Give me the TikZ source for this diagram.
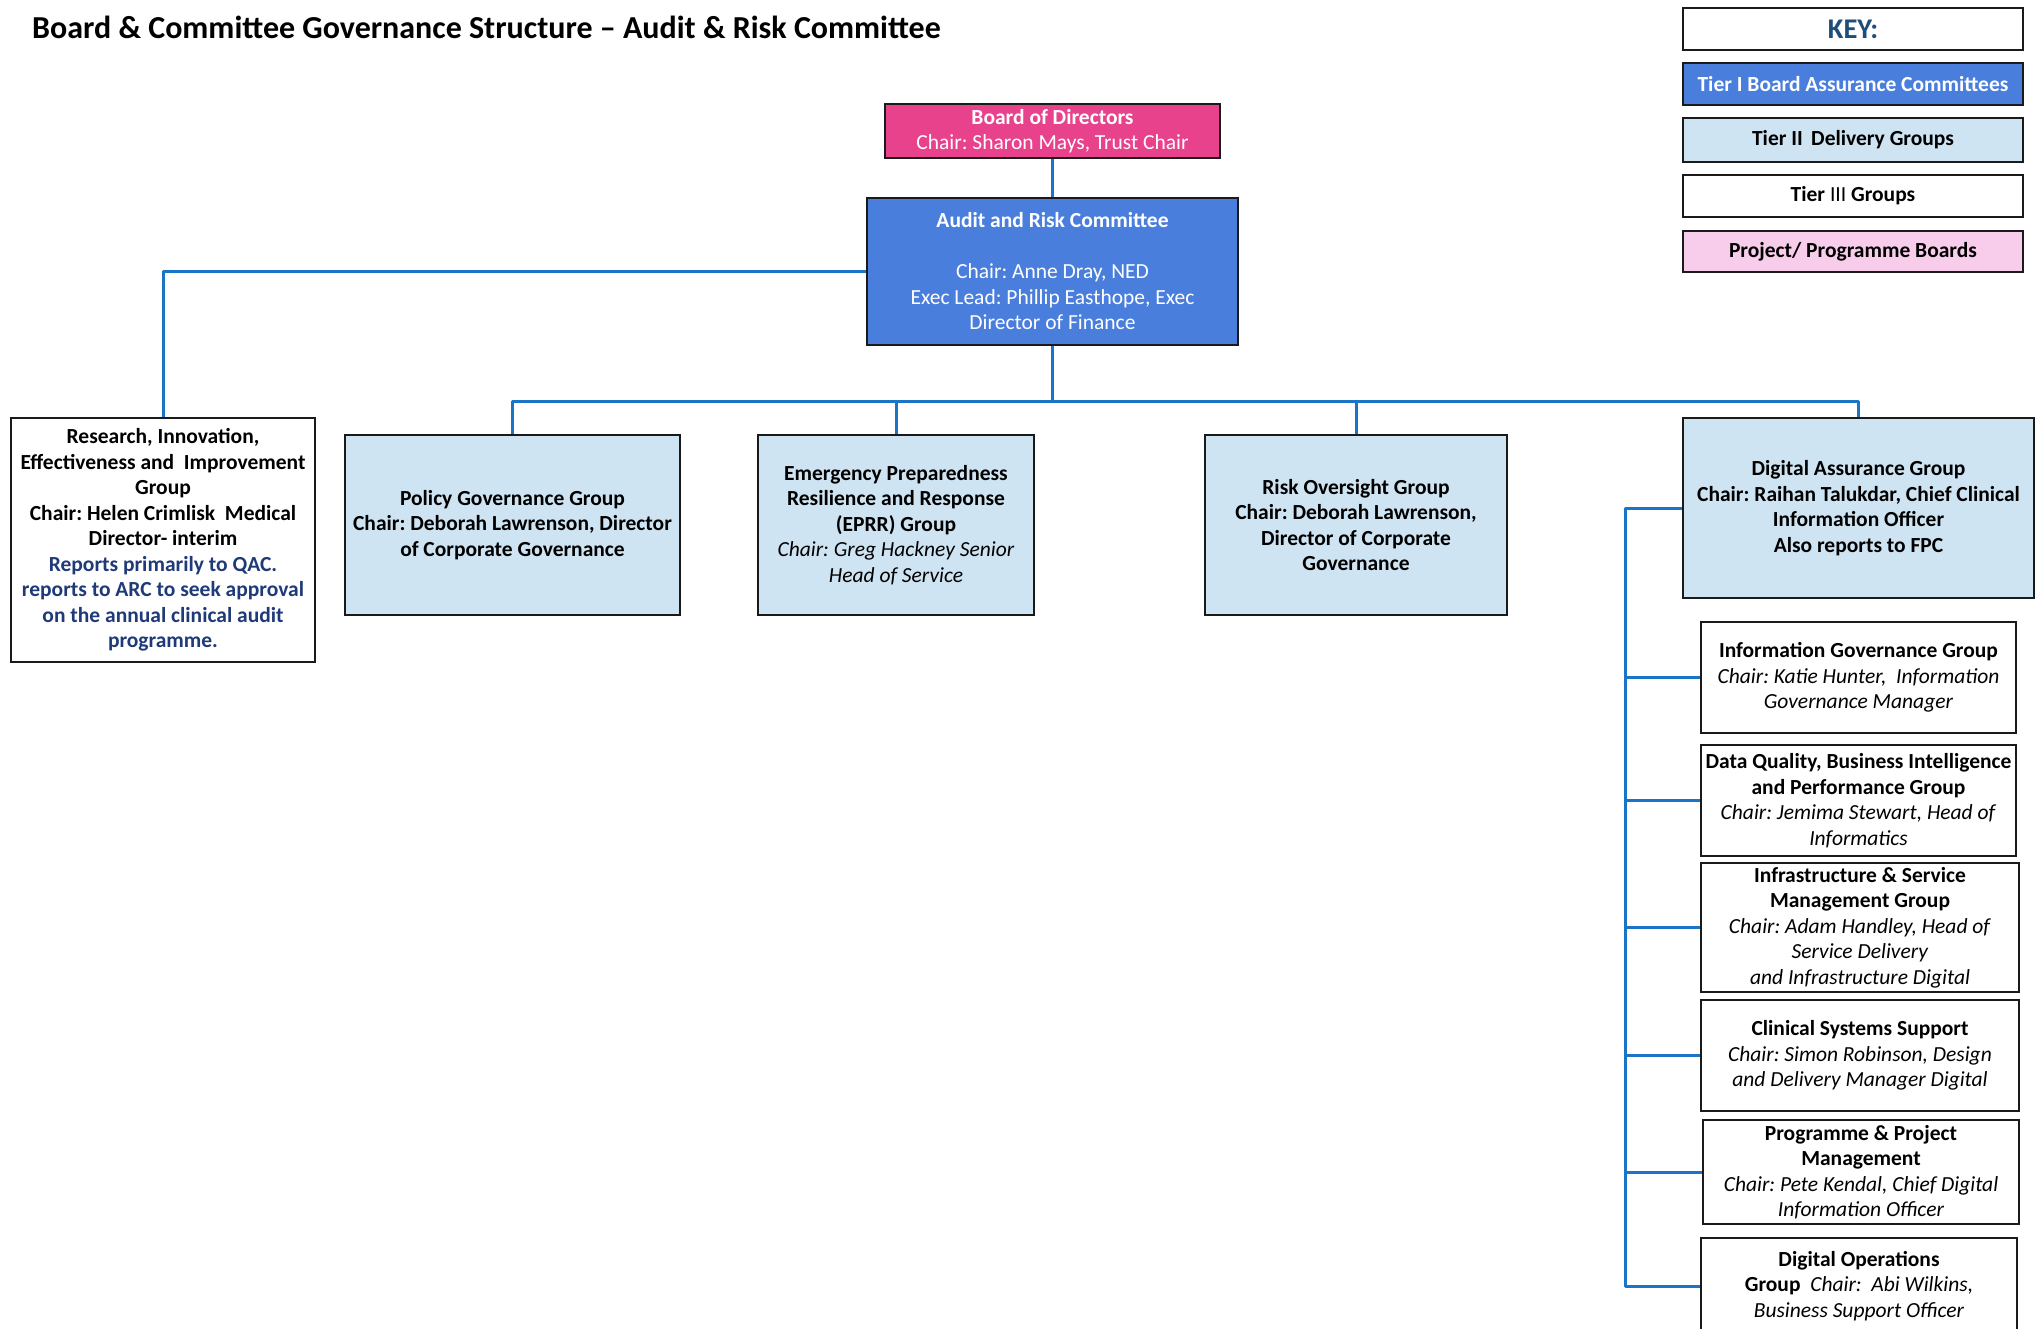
\documentclass[tikz,border=0pt]{standalone}
\usepackage{fontspec}
\setmainfont{Carlito}
\usetikzlibrary{backgrounds}
\frenchspacing
\definecolor{boardpink}{HTML}{E8428C}
\definecolor{tierone}{HTML}{4A7EDD}
\definecolor{tiertwo}{HTML}{CFE4F2}
\definecolor{projpink}{HTML}{F8CDEB}
\definecolor{connblue}{HTML}{1C74C6}
\definecolor{navytext}{HTML}{1F3A78}
\definecolor{keyblue}{HTML}{1F4E79}
\definecolor{boxline}{HTML}{1A1A1A}
\newcommand\bodyfont{\fontsize{21.5}{25.5}\selectfont\frenchspacing}
\tikzset{
  basebox/.style={draw=boxline, line width=2.6pt, rectangle, inner sep=2pt, align=center, font=\bodyfont, text=black},
  tieronebox/.style={basebox, fill=tierone, text=white},
  tiertwobox/.style={basebox, fill=tiertwo},
  tierthreebox/.style={basebox, fill=white},
  boardbox/.style={basebox, fill=boardpink, text=white},
  projbox/.style={basebox, fill=projpink},
  conn/.style={draw=connblue, line width=3pt, line join=round},
}
\begin{document}
\begin{tikzpicture}[x=1pt,y=-1pt]
\useasboundingbox (0,0) rectangle (2042,1328);

% title
\node[anchor=west, inner sep=0pt, font=\fontsize{32}{36}\selectfont\bfseries] (title) at (32,27) {Board \& Committee Governance Structure -- Audit \& Risk Committee};

% key
\node[tierthreebox, minimum width=340pt, minimum height=42pt, font=\fontsize{28.5}{30}\selectfont\bfseries, text=keyblue] (key) at (1853,29) {KEY:};
\node[tieronebox, minimum width=340pt, minimum height=42pt, font=\bodyfont\bfseries] (k1) at (1853,84) {Tier I Board Assurance Committees};
\node[tiertwobox, minimum width=340pt, minimum height=44pt, font=\bodyfont\bfseries] (k2) at (1853,140) {Tier II\,\ Delivery Groups};
\node[tierthreebox, minimum width=340pt, minimum height=42pt, font=\bodyfont\bfseries] (k3) at (1853,196) {Tier \textmd{III} Groups};
\node[projbox, minimum width=340pt, minimum height=41pt, font=\bodyfont\bfseries] (k4) at (1853,251.5) {Project/ Programme Boards};

% board & ARC
\node[boardbox, minimum width=335pt, minimum height=54pt] (board) at (1052.5,131) {\textbf{Board of Directors}\\Chair: Sharon Mays, Trust Chair};
\node[tieronebox, minimum width=371pt, minimum height=147pt] (arc) at (1052.5,271.5) {\textbf{Audit and Risk Committee}\\[25.5pt]Chair: Anne Dray, NED\\Exec Lead: Phillip Easthope, Exec\\Director of Finance};

% tier II row
\node[tierthreebox, minimum width=304pt, minimum height=244pt, font=\bodyfont\bfseries] (res) at (163,540) {Research, Innovation,\\Effectiveness and\ \ Improvement\\Group\\Chair: Helen Crimlisk\ \ Medical\\Director- interim\\\textcolor{navytext}{Reports primarily to QAC.}\\\textcolor{navytext}{reports to ARC to seek approval}\\\textcolor{navytext}{on the annual clinical audit}\\\textcolor{navytext}{programme.}};
\node[tiertwobox, minimum width=335pt, minimum height=180pt, font=\bodyfont\bfseries] (pol) at (512.5,525) {Policy Governance Group\\Chair: Deborah Lawrenson, Director\\of Corporate Governance};
\node[tiertwobox, minimum width=276pt, minimum height=180pt] (eprr) at (896,525) {\textbf{Emergency Preparedness}\\\textbf{Resilience and Response}\\\textbf{(EPRR) Group}\\\textit{Chair: Greg Hackney Senior}\\\textit{Head of Service}};
\node[tiertwobox, minimum width=302pt, minimum height=180pt, font=\bodyfont\bfseries] (risk) at (1356,525) {Risk Oversight Group\\Chair: Deborah Lawrenson,\\Director of Corporate\\Governance};
\node[tiertwobox, minimum width=351pt, minimum height=180pt, font=\bodyfont\bfseries] (dag) at (1858.5,508) {Digital Assurance Group\\Chair: Raihan Talukdar, Chief Clinical\\Information Officer\\Also reports to FPC};

% tier III column
\node[tierthreebox, minimum width=315pt, minimum height=111pt] (ig) at (1858.5,677.5) {\textbf{Information Governance Group}\\\textit{Chair: Katie Hunter,\ \ Information}\\\textit{Governance Manager}};
\node[tierthreebox, minimum width=315pt, minimum height=111pt] (dq) at (1858.5,800.5) {\textbf{Data Quality, Business Intelligence}\\\textbf{and Performance Group}\\\textit{Chair: Jemima Stewart, Head of}\\\textit{Informatics}};
\node[tierthreebox, minimum width=318pt, minimum height=129pt] (infra) at (1860,927.5) {\textbf{Infrastructure \& Service}\\\textbf{Management Group}\\\textit{Chair: Adam Handley, Head of}\\\textit{Service Delivery}\\\textit{and Infrastructure Digital}};
\node[tierthreebox, minimum width=318pt, minimum height=111pt] (css) at (1860,1055.5) {\textbf{Clinical Systems Support}\\\textit{Chair: Simon Robinson, Design}\\\textit{and Delivery Manager Digital}};
\node[tierthreebox, minimum width=316pt, minimum height=104pt] (ppm) at (1861,1172) {\textbf{Programme \& Project}\\\textbf{Management}\\\textit{Chair: Pete Kendal, Chief Digital}\\\textit{Information Officer}};
\node[tierthreebox, minimum width=316pt, minimum height=96pt] (dog) at (1859,1286) {\textbf{Digital Operations}\\\textbf{Group}\ \ \textit{Chair:\ \ Abi Wilkins,}\\\textit{Business Support Officer}};

% connectors
\begin{scope}[on background layer]
\fill[white] (0,0) rectangle (2042,1328);
\coordinate (bus) at (1052.5,401);
\coordinate (spine) at (1625,600);
\draw[conn] (board.south) -- (arc.north);
\draw[conn] (arc.west) -| (res.north);
\draw[conn] (arc.south) -- (bus);
\draw[conn] (pol.north) -- (pol.north |- bus) -- (dag.north |- bus) -- (dag.north);
\draw[conn] (eprr.north) -- (eprr.north |- bus);
\draw[conn] (risk.north) -- (risk.north |- bus);
\draw[conn] (dag.west) -- (dag.west -| spine) -- (spine |- dog.west) -- (dog.west);
\draw[conn] (spine |- ig.west) -- (ig.west);
\draw[conn] (spine |- dq.west) -- (dq.west);
\draw[conn] (spine |- infra.west) -- (infra.west);
\draw[conn] (spine |- css.west) -- (css.west);
\draw[conn] (spine |- ppm.west) -- (ppm.west);
\end{scope}
\end{tikzpicture}
\end{document}
